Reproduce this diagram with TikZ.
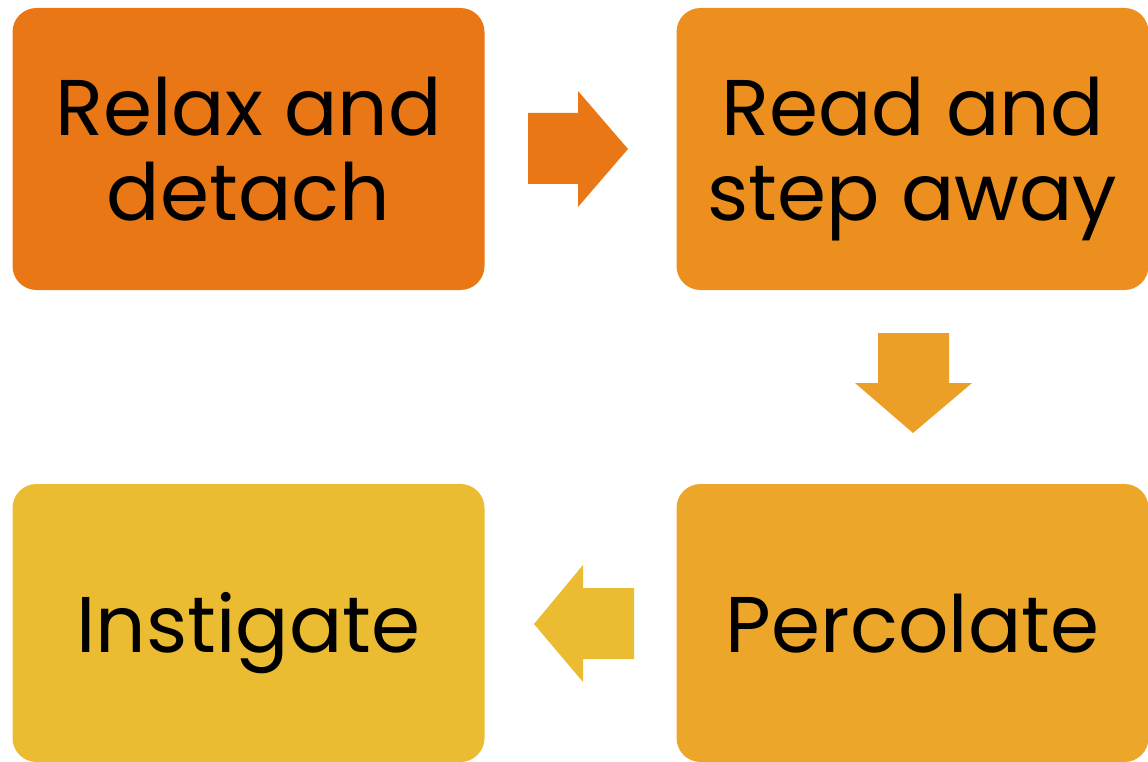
\documentclass[tikz,border=0pt]{standalone}
\usepackage{fontspec}
\setmainfont{Poppins}
\definecolor{cA}{HTML}{E97716}
\definecolor{cB}{HTML}{EC8F1E}
\definecolor{cC}{HTML}{ECA62A}
\definecolor{cD}{HTML}{EBBC32}
\definecolor{cArrB}{HTML}{EC9F26}
\tikzset{
  box/.style={rounded corners=24pt, inner sep=0pt, minimum width=472pt, minimum height=282pt, align=center, text=black, font=\fontsize{79}{85}\selectfont},
  twoline/.style={text height=162pt, text depth=20pt},
  oneline/.style={text height=78pt, text depth=20pt}
}
\begin{document}
\begin{tikzpicture}[x=1pt,y=-1pt]
\useasboundingbox (0,0) rectangle (1148,762);
\node[box, twoline, fill=cA] (b1) at (248.5,149) {Relax and\\detach};
\node[box, twoline, fill=cB] (b2) at (912.5,149) {Read and\\step away};
\node[box, oneline, fill=cC, minimum height=278pt] (b3) at (912.5,623) {Percolate};
\node[box, oneline, fill=cD, minimum height=278pt] (b4) at (248.5,623) {Instigate};
% right arrow
\fill[cA] (528,113) -- (578,113) -- (578,91) -- (628,149) -- (578,207) -- (578,184) -- (528,184) -- cycle;
% down arrow
\fill[cArrB] (878,333) -- (949,333) -- (949,383) -- (972,383) -- (913,433) -- (855,383) -- (878,383) -- cycle;
% left arrow
\fill[cD] (634,588) -- (583,588) -- (583,565) -- (534,624) -- (583,682) -- (583,659) -- (634,659) -- cycle;
\end{tikzpicture}
\end{document}
